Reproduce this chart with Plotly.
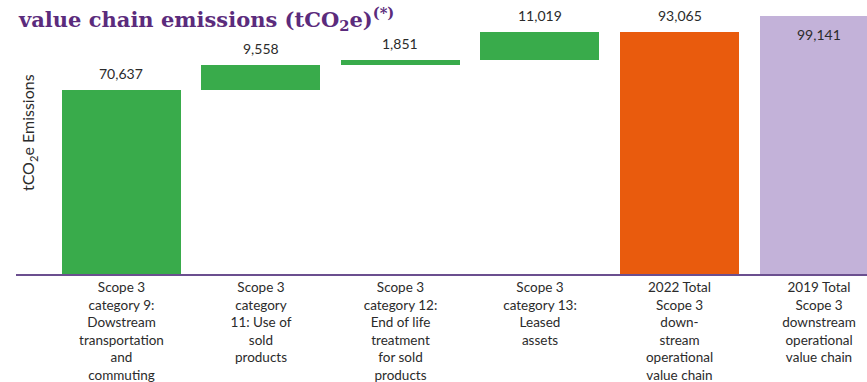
import numpy as np
import plotly.graph_objects as go

# Scope 3 downstream contributions (tCO2e)
categories = [
    "Scope 3<br>category 9:<br>Dowstream<br>transportation<br>and<br>commuting",
    "Scope 3<br>category<br>11: Use of<br>sold<br>products",
    "Scope 3<br>category 12:<br>End of life<br>treatment<br>for sold<br>products",
    "Scope 3<br>category 13:<br>Leased<br>assets",
    "2022 Total<br>Scope 3<br>down-<br>stream<br>operational<br>value chain",
    "2019 Total<br>Scope 3<br>downstream<br>operational<br>value chain",
]
increments = [70637, 9558, 1851, 11019]
total_2022 = 93065
total_2019 = 99141

GREEN = "#39ab4b"
ORANGE = "#e95b0d"
LILAC = "#c3b2d9"
PURPLE = "#5b2b7c"
TEXT = "#2b2b2b"

bases = list(np.concatenate([[0], np.cumsum(increments)[:-1]])) + [0, 0]
heights = increments + [total_2022, total_2019]
colors = [GREEN] * len(increments) + [ORANGE, LILAC]
xpos = list(range(len(categories)))

fig = go.Figure()
fig.add_trace(go.Bar(
    x=xpos, y=heights, base=bases, width=0.853,
    marker=dict(color=colors, line=dict(width=0)),
    hoverinfo="skip",
))

# value labels
for i, (b, h) in enumerate(zip(bases, heights)):
    top = b + h
    inside = i == len(categories) - 1
    fig.add_annotation(
        x=i, y=top, xref="x", yref="y",
        text=f"{h:,}", showarrow=False,
        yanchor="top" if inside else "bottom",
        yshift=-8 if inside else 6,
        font=dict(family="Lato", size=14, color=TEXT),
    )

# vertical axis caption
fig.add_annotation(
    x=0.0155, y=0.515, xref="paper", yref="paper", text="tCO<sub>2</sub>e Emissions",
    textangle=-90, showarrow=False, xanchor="center", yanchor="middle",
    font=dict(family="Lato", size=16, color=TEXT),
)

fig.add_annotation(
    x=0, y=1, xref="paper", yref="paper",
    text="<b>value chain emissions (tCO<sub>2</sub>e)<sup>(*)</sup></b>",
    showarrow=False, xanchor="left", yanchor="top", yshift=-2,
    font=dict(family="DejaVu Serif", size=21, color=PURPLE),
)

fig.update_layout(
    width=867, height=382,
    margin=dict(l=16, r=0, t=0, b=108),
    paper_bgcolor="white", plot_bgcolor="white",
    showlegend=False,
    bargap=0,
    xaxis=dict(
        range=[-0.756, 5.344], tickmode="array", tickvals=xpos, ticktext=categories,
        showgrid=False, zeroline=False, showline=True, linecolor="#6b4f8f", linewidth=2,
        ticks="", tickangle=0,
        tickfont=dict(family="Lato", size=13.5, color=TEXT),
        fixedrange=True,
    ),
    yaxis=dict(
        range=[0, 105260], showgrid=False, zeroline=False, showticklabels=False,
        showline=False, ticks="", fixedrange=True,
    ),
)

fig.write_html("out.html", config={"displayModeBar": False})
